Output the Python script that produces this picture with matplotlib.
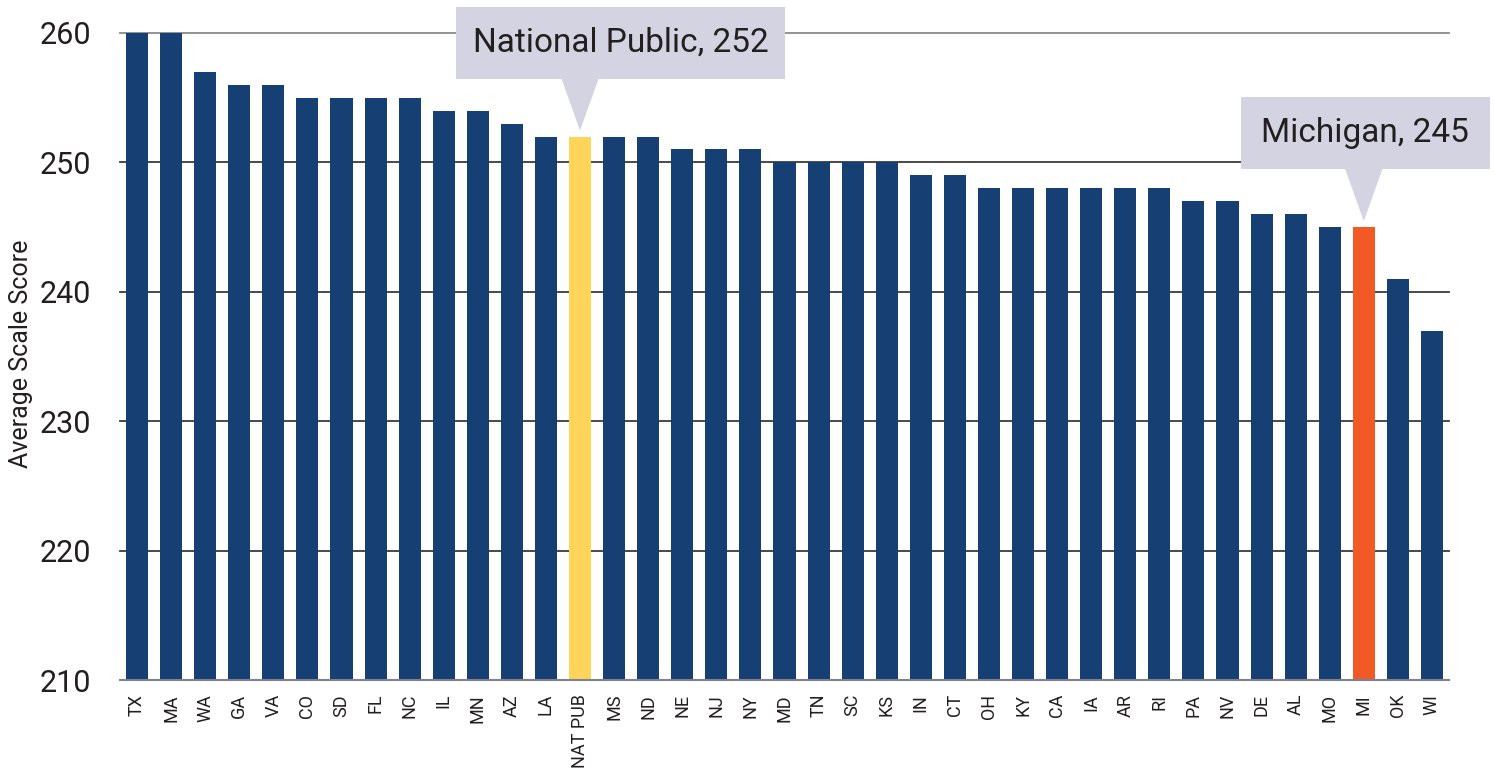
import matplotlib
matplotlib.use('Agg')
from matplotlib import pyplot as plt
from matplotlib.patches import Polygon, Rectangle
from matplotlib.transforms import IdentityTransform

plt.rcParams['font.family'] = ['Roboto', 'DejaVu Sans']

states = ['TX', 'MA', 'WA', 'GA', 'VA', 'CO', 'SD', 'FL', 'NC', 'IL', 'MN', 'AZ', 'LA',
          'NAT PUB', 'MS', 'ND', 'NE', 'NJ', 'NY', 'MD', 'TN', 'SC', 'KS', 'IN', 'CT',
          'OH', 'KY', 'CA', 'IA', 'AR', 'RI', 'PA', 'NV', 'DE', 'AL', 'MO', 'MI', 'OK', 'WI']
scores = [260, 260, 257, 256, 256, 255, 255, 255, 255, 254, 254, 253, 252,
          252, 252, 252, 251, 251, 251, 250, 250, 250, 250, 249, 249,
          248, 248, 248, 248, 248, 248, 247, 247, 246, 246, 245, 245, 241, 237]
yticks = [210, 220, 230, 240, 250, 260]
callouts = [('NAT PUB', 'National Public, 252'), ('MI', 'Michigan, 245')]

NAVY = '#163f73'
YELLOW = '#fed55a'
ORANGE = '#f15a24'
BOX = '#d3d3e2'
TXT = '#231f20'

W, H = 1495, 772
fig = plt.figure(figsize=(W / 100, H / 100), dpi=100)
ax = fig.add_axes([120 / W, 1 - 680 / H, 1329 / W, 647 / H])

colors = [NAVY] * len(states)
colors[states.index('NAT PUB')] = YELLOW
colors[states.index('MI')] = ORANGE
x = list(range(len(states)))
ax.bar(x, [s - 210 for s in scores], bottom=210, width=0.65, color=colors, zorder=3)

ax.set_xlim(-0.5, len(states) - 0.5)
ax.set_ylim(210, 260)
ax.set_yticks(yticks)
ax.set_yticklabels([str(t) for t in yticks], fontsize=22, color=TXT)
ax.set_xticks(x)
ax.set_xticklabels(states, rotation=90, fontsize=13, color=TXT, va='top')
ax.tick_params(axis='both', length=0)
ax.tick_params(axis='y', pad=21)
ax.tick_params(axis='x', pad=10)
for sp in ['top', 'right', 'left']:
    ax.spines[sp].set_visible(False)
ax.spines['bottom'].set_color('#7f8090')
ax.spines['bottom'].set_linewidth(1.5)
ax.spines['bottom'].set_zorder(4)

for t in yticks[1:]:
    c = '#8a8a8a' if t == 260 else '#3a3a3a'
    ax.axhline(t, color=c, lw=1.3, zorder=1, clip_on=False)

fig.text(21 / W, 1 - 354 / H, 'Average Scale Score', rotation=90, fontsize=18,
         color=TXT, ha='center', va='center')

# callout boxes with pointers, drawn in pixel space above the bar
fig.canvas.draw()
specs = {'NAT PUB': (-124, 205), 'MI': (-123, 126)}
for key, label in callouts:
    i = states.index(key)
    px, py = ax.transData.transform((i, scores[i]))
    tip_y = py + 6
    base_y = tip_y + 52
    top_y = base_y + 72
    lo, hi = specs[key]
    tri = Polygon([(px, tip_y), (px - 19, base_y + 1), (px + 19, base_y + 1)],
                  closed=True, facecolor=BOX, edgecolor='none',
                  transform=IdentityTransform(), zorder=5)
    rect = Rectangle((px + lo, base_y), hi - lo, top_y - base_y, facecolor=BOX,
                     edgecolor='none', transform=IdentityTransform(), zorder=5)
    fig.add_artist(tri)
    fig.add_artist(rect)
    fig.text((px + (lo + hi) / 2) / W, ((base_y + top_y) / 2) / H, label,
             ha='center', va='center', fontsize=24, color=TXT, zorder=6)

fig.savefig('out.png', dpi=100)
